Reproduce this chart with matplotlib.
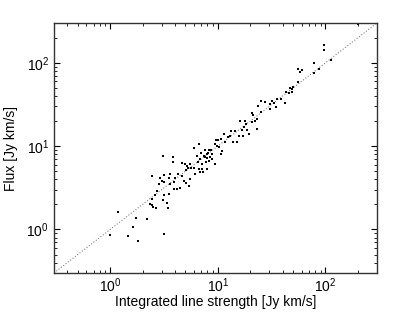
import matplotlib
matplotlib.use('Agg')
import matplotlib.pyplot as plt
import numpy as np

plt.rcParams['font.family'] = ['Liberation Sans', 'DejaVu Sans']
plt.rcParams['mathtext.fontset'] = 'custom'
plt.rcParams['mathtext.rm'] = 'Liberation Sans'
plt.rcParams['mathtext.it'] = 'Liberation Sans:italic'

# integrated line strength vs flux, both in Jy km/s
line_strength = [
    1.0, 1.19, 1.45, 1.64, 1.75, 1.83, 2.19, 3.18,
    2.36, 2.43, 2.64, 2.50, 2.47, 2.62, 2.72, 3.09, 3.37, 3.49, 3.41, 3.13,
    3.88, 4.17, 4.41, 2.46, 2.92, 3.18, 3.58, 3.49, 3.13, 2.81, 3.56, 4.02,
    4.26, 3.88, 3.00, 4.67, 4.81, 5.02, 5.55, 5.40, 3.08, 3.83, 3.81, 4.62,
    4.93, 5.17, 5.47, 5.63, 5.32, 5.06, 6.41, 6.77, 7.38, 7.94, 8.16, 7.70,
    7.18, 6.59, 5.96, 6.14, 6.77, 7.18,
    25.4, 20.8, 21.1, 23.0, 22.3, 23.3, 16.1, 17.8, 18.3, 17.5, 16.8, 18.8,
    19.4, 17.3, 15.6, 14.3, 13.2, 13.0, 12.3, 11.4, 10.6, 9.62, 10.0, 9.48,
    11.7, 13.7, 15.2, 9.75, 10.2, 6.63, 8.21, 8.57, 7.54, 10.9, 10.8, 7.02,
    7.87, 8.83, 7.65, 8.46, 8.83, 8.21, 9.48, 6.73, 7.99, 7.33, 5.96,
    77.8, 87.4, 56.1, 57.7, 60.4, 55.2, 46.5, 48.6, 50.1, 49.3, 45.9, 42.7,
    38.7, 35.5, 42.0, 32.1, 33.2, 30.8, 27.5, 25.4, 34.5, 23.8, 30.8, 20.6,
    200.0, 97.9, 97.9, 113.0, 77.8,
]
flux = [
    0.86, 1.62, 0.83, 1.07, 1.38, 0.73, 1.35, 0.87,
    2.02, 1.96, 1.81, 1.84, 2.31, 2.61, 2.86, 2.26, 2.10, 2.66, 1.81, 2.56,
    3.08, 3.02, 3.14, 4.36, 4.09, 4.52, 4.60, 4.12, 3.70, 3.50, 3.48, 4.12,
    4.58, 3.70, 3.83, 4.43, 3.83, 3.63, 4.05, 3.31, 7.54, 7.40, 6.54, 6.28,
    6.02, 5.78, 6.15, 5.52, 5.40, 5.18, 7.54, 7.00, 7.67, 7.14, 8.26, 6.40,
    6.05, 6.40, 5.52, 4.60, 4.86, 5.32,
    25.6, 24.7, 23.4, 21.0, 20.2, 16.2, 20.1, 19.9, 18.4, 17.2, 15.6, 15.6,
    13.8, 13.4, 13.4, 15.1, 15.1, 13.3, 13.0, 14.0, 12.1, 11.7, 11.8, 10.6,
    11.1, 11.3, 11.1, 9.92, 9.73, 10.6, 9.03, 8.89, 9.03, 8.72, 7.96, 8.26,
    8.10, 7.96, 7.40, 7.40, 7.00, 6.63, 6.15, 5.32, 5.32, 4.86, 9.55,
    99.1, 84.9, 85.5, 78.1, 81.9, 58.3, 50.4, 48.6, 51.4, 45.2, 43.4, 44.5,
    37.0, 37.0, 32.5, 35.3, 33.4, 32.1, 33.9, 34.8, 29.7, 30.4, 27.6, 19.5,
    295.0, 162.0, 142.0, 109.0, 75.0,
]
lims = [0.3, 300]

fig = plt.figure(figsize=(4.15, 3.12), dpi=100)
ax = fig.add_axes([0.130, 0.125, 0.778, 0.801])

ax.plot(lims, lims, ':', color='gray', lw=0.8)
ax.plot(line_strength, flux, 's', color='black', markersize=1.8, markeredgewidth=0)

ax.set_xscale('log')
ax.set_yscale('log')
ax.set_xlim(lims)
ax.set_ylim(lims)
ax.tick_params(which='both', direction='in', top=True, right=True, labelsize=10)
ax.tick_params(which='major', length=4)
ax.tick_params(which='minor', length=2)
ax.tick_params(axis='x', pad=2.5)
for s in ax.spines.values():
    s.set_linewidth(1.0)
    s.set_color('#333333')

ax.set_xlabel('Integrated line strength [Jy km/s]', fontsize=10, labelpad=0)
ax.set_ylabel('Flux [Jy km/s]', fontsize=10, labelpad=6)

fig.savefig('out.png', dpi=100)
